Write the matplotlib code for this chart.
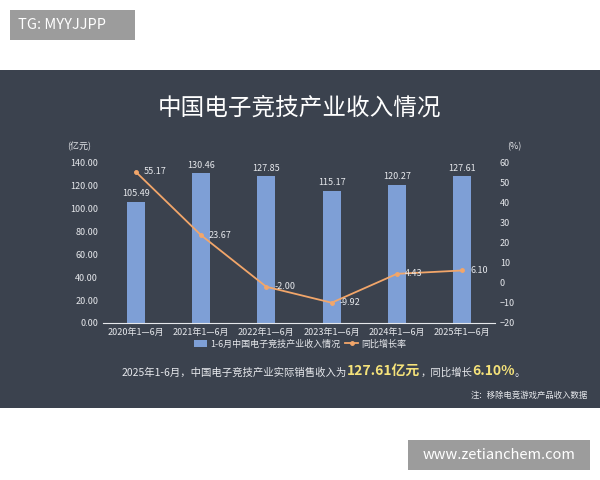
import matplotlib.pyplot as plt

plt.rcParams['font.family'] = ['Noto Sans CJK SC', 'DejaVu Sans']

periods = ['2020年1—6月', '2021年1—6月', '2022年1—6月', '2023年1—6月', '2024年1—6月', '2025年1—6月']
revenue = [105.49, 130.46, 127.85, 115.17, 120.27, 127.61]
growth = [55.17, 23.67, -2.00, -9.92, 4.43, 6.10]

bg = '#3b424e'
fg = '#e6e8ec'
bar_color = '#7e9fd6'
line_color = '#f2a66a'
hi = '#f5e27a'

fig = plt.figure(figsize=(6, 4.8), dpi=100)
fig.patch.set_facecolor('white')

# dark panel as a background axes
panel = fig.add_axes([0, 1 - 408 / 480, 1, (408 - 70) / 480], zorder=-1)
panel.set_facecolor(bg)
panel.set_xticks([])
panel.set_yticks([])
for s in panel.spines.values():
    s.set_visible(False)

fig.patches.append(plt.Rectangle((10 / 600, 1 - 40 / 480), 125 / 600, 30 / 480, transform=fig.transFigure,
                                 facecolor='#9c9c9c', edgecolor='none'))
fig.text(18 / 600, 1 - 25 / 480, 'TG: MYYJJPP', color='white', fontsize=10.5, va='center')
fig.patches.append(plt.Rectangle((408 / 600, 1 - 470 / 480), 182 / 600, 30 / 480, transform=fig.transFigure,
                                 facecolor='#9c9c9c', edgecolor='none'))
fig.text(499 / 600, 1 - 455 / 480, 'www.zetianchem.com', color='white', fontsize=10.5, va='center', ha='center')

fig.text(0.5, 1 - 108 / 480, '中国电子竞技产业收入情况', color='white', fontsize=17, ha='center', va='center',
         weight='medium')

ax = fig.add_axes([103 / 600, 1 - 323 / 480, 392 / 600, 161 / 480])
ax.set_facecolor('none')
x = list(range(len(periods)))
bars = ax.bar(x, revenue, width=0.28, color=bar_color)
for xi, v in zip(x, revenue):
    ax.text(xi, v + 3, f'{v:.2f}', color=fg, fontsize=6.5, ha='center', va='bottom')
ax.set_ylim(0, 140)
ax.set_yticks(range(0, 141, 20))
ax.set_yticklabels([f'{v:.2f}' for v in range(0, 141, 20)])
ax.set_xlim(-0.5, 5.5)
ax.set_xticks(x)
ax.set_xticklabels(periods)
ax.tick_params(colors=fg, labelsize=6.5, length=0)
for s in ['top', 'right', 'left']:
    ax.spines[s].set_visible(False)
ax.spines['bottom'].set_color(fg)
ax.text(-0.03, 1.08, '(亿元)', transform=ax.transAxes, color=fg, fontsize=6.5, ha='right')

ax2 = ax.twinx()
ln, = ax2.plot(x, growth, color=line_color, lw=1.3, marker='o', ms=2.5)
for xi, v in zip(x, growth):
    ax2.text(xi + 0.12, v, f'{v:.2f}', color=fg, fontsize=6.5, ha='left', va='center')
ax2.set_ylim(-20, 60)
ax2.set_yticks(range(-20, 61, 10))
ax2.tick_params(colors=fg, labelsize=6.5, length=0)
for s in ax2.spines.values():
    s.set_visible(False)
ax2.text(1.03, 1.08, '(%)', transform=ax.transAxes, color=fg, fontsize=6.5, ha='left')

leg = fig.legend([bars, ln], ['1-6月中国电子竞技产业收入情况', '同比增长率'], loc='center',
                 bbox_to_anchor=(0.5, 1 - 344 / 480), ncol=2, frameon=False, fontsize=6.5,
                 handlelength=1.5, columnspacing=0.5, handletextpad=0.3)
for t in leg.get_texts():
    t.set_color(fg)

# summary sentence, pieces chained one after another
pieces = [('127.61亿元', hi, 10, 'bold'),
          ('，同比增长', fg, 7.5, 'normal'),
          ('6.10%', hi, 10, 'bold'),
          ('。', fg, 7.5, 'normal')]
anchor = fig.text(122 / 600, 1 - 376 / 480, '2025年1-6月，中国电子竞技产业实际销售收入为', color=fg,
                  fontsize=7.5, ha='left', va='baseline')
for s, c, fs, w in pieces:
    anchor = plt.annotate(s, xy=(1, 0), xycoords=anchor, color=c, fontsize=fs, weight=w,
                          ha='left', va='bottom', annotation_clip=False)

fig.text(588 / 600, 1 - 395 / 480, '注：移除电竞游戏产品收入数据', color=fg, fontsize=6, ha='right', va='center')

fig.savefig('out.png', dpi=100, facecolor='white')
